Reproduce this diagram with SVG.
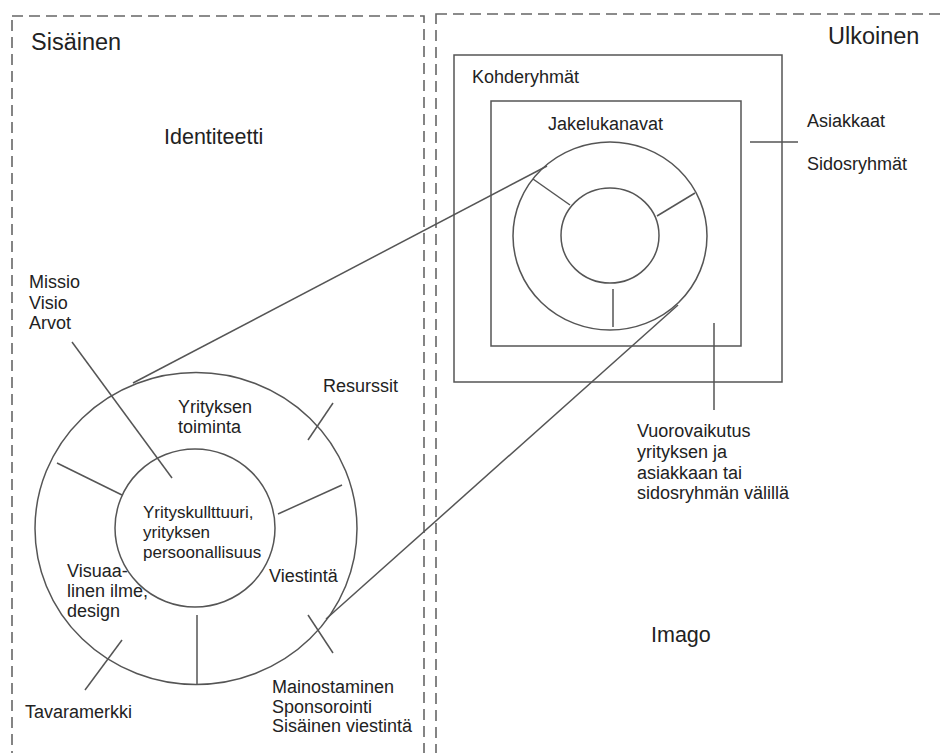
<svg xmlns="http://www.w3.org/2000/svg" width="941" height="753" viewBox="0 0 941 753">
<style>
  .bg { fill: #ffffff; }
  .dash { fill: none; stroke: #666; stroke-width: 1.6; stroke-dasharray: 11 6; }
  .ln { fill: none; stroke: #555; stroke-width: 1.5; }
  .t { font-family: "Liberation Sans", Arial, sans-serif; font-size: 18px; fill: #222; }
  .big { font-size: 23.5px; }
  .mid { font-size: 21.5px; }
  .sm { font-size: 17px; }
</style>
<rect class="bg" x="0" y="0" width="941" height="753"/>

<g id="sisainen">
  <rect class="dash" x="12" y="16" width="412" height="760"/>
  <text class="t big" x="31" y="50">Sisäinen</text>
  <text class="t mid" x="164" y="144">Identiteetti</text>
</g>

<g id="ulkoinen">
  <rect class="dash" x="436" y="14" width="520" height="760"/>
  <text class="t big" x="828" y="44">Ulkoinen</text>
  <text class="t mid" x="651" y="642">Imago</text>
</g>

<g id="identiteetti-ympyra">
  <ellipse class="ln" cx="196" cy="528.5" rx="161" ry="156"/>
  <ellipse class="ln" cx="195" cy="528" rx="80" ry="79"/>
  <line class="ln" x1="57" y1="463" x2="122" y2="495"/>
  <line class="ln" x1="342" y1="485" x2="278" y2="514"/>
  <line class="ln" x1="197" y1="615" x2="197" y2="684"/>
  <text class="t sm" x="143" y="518">Yrityskullttuuri,</text>
  <text class="t sm" x="143" y="538">yrityksen</text>
  <text class="t sm" x="143" y="558">persoonallisuus</text>
  <text class="t" x="178" y="413">Yrityksen</text>
  <text class="t" x="178" y="433">toiminta</text>
  <text class="t" x="269" y="582">Viestintä</text>
  <text class="t" x="67" y="577">Visuaa-</text>
  <text class="t" x="67" y="597">linen ilme,</text>
  <text class="t" x="67" y="617">design</text>
</g>

<g id="kohderyhmat">
  <rect class="ln" x="454" y="55" width="328" height="327"/>
  <text class="t" x="472" y="83">Kohderyhmät</text>
</g>

<g id="jakelukanavat">
  <rect class="ln" x="491" y="101" width="250" height="245"/>
  <text class="t" x="548" y="130">Jakelukanavat</text>
</g>

<g id="imago-ympyra">
  <ellipse class="ln" cx="610" cy="236" rx="97" ry="94"/>
  <ellipse class="ln" cx="610" cy="235.5" rx="49" ry="47.5"/>
  <line class="ln" x1="533" y1="179" x2="570" y2="205"/>
  <line class="ln" x1="695" y1="193" x2="657" y2="216"/>
  <line class="ln" x1="613" y1="289" x2="613" y2="327"/>
</g>

<g id="missio">
  <text class="t" x="29" y="288">Missio</text>
  <text class="t" x="29" y="309">Visio</text>
  <text class="t" x="29" y="329">Arvot</text>
</g>
<g id="resurssit"><text class="t" x="323" y="392">Resurssit</text></g>
<g id="tavaramerkki"><text class="t" x="25" y="718">Tavaramerkki</text></g>
<g id="mainostaminen">
  <text class="t" x="272" y="693">Mainostaminen</text>
  <text class="t" x="272" y="713">Sponsorointi</text>
  <text class="t" x="272" y="732">Sisäinen viestintä</text>
</g>
<g id="asiakkaat">
  <text class="t" x="807" y="127">Asiakkaat</text>
  <text class="t" x="807" y="170">Sidosryhmät</text>
</g>
<g id="vuorovaikutus">
  <text class="t" x="637" y="437">Vuorovaikutus</text>
  <text class="t" x="637" y="458">yrityksen ja</text>
  <text class="t" x="637" y="479">asiakkaan tai</text>
  <text class="t" x="637" y="499">sidosryhmän välillä</text>
</g>

<g id="connectors">
  <line class="ln" x1="72" y1="342" x2="172" y2="478"/>
  <line class="ln" x1="333" y1="403" x2="308" y2="440"/>
  <line class="ln" x1="308" y1="615" x2="333" y2="653"/>
  <line class="ln" x1="122" y1="640" x2="85" y2="690"/>
  <line class="ln" x1="133" y1="383" x2="547" y2="166"/>
  <line class="ln" x1="326" y1="619" x2="678" y2="305"/>
  <line class="ln" x1="750" y1="142" x2="798" y2="142"/>
  <line class="ln" x1="714" y1="323" x2="714" y2="410"/>
</g>
</svg>
